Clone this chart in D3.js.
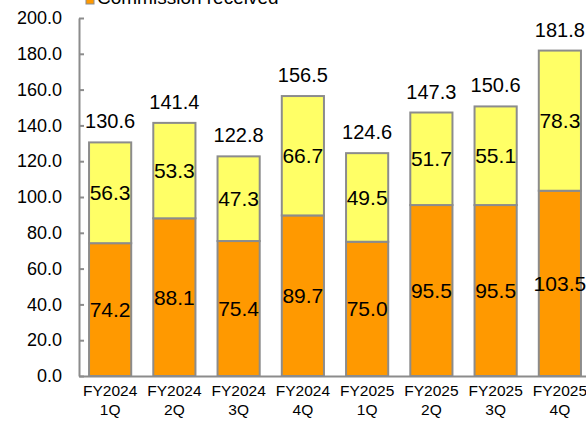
<!DOCTYPE html>
<html>
<head>
<meta charset="utf-8">
<script src="https://cdn.jsdelivr.net/npm/d3@7"></script>
<style>
  html, body { margin: 0; padding: 0; background: #fff; }
  svg { display: block; font-family: "Liberation Sans", Arial, sans-serif; }
</style>
</head>
<body>
<svg id="chart" width="586" height="421"></svg>
<script>
// Quarterly breakdown: lower segment and upper segment, with the stated totals
const quarters = ["FY2024\n1Q", "FY2024\n2Q", "FY2024\n3Q", "FY2024\n4Q",
                  "FY2025\n1Q", "FY2025\n2Q", "FY2025\n3Q", "FY2025\n4Q"];
const lowerValues = [74.2, 88.1, 75.4, 89.7, 75.0, 95.5, 95.5, 103.5];
const upperValues = [56.3, 53.3, 47.3, 66.7, 49.5, 51.7, 55.1, 78.3];
const totalLabels = ["130.6", "141.4", "122.8", "156.5", "124.6", "147.3", "150.6", "181.8"];
const yTicks = [0, 20, 40, 60, 80, 100, 120, 140, 160, 180, 200];
const legendLabel = "Commission received";

const svg = d3.select("#chart");
const plotLeft = 79, plotBottom = 376, plotTop = 18;

const x = d3.scaleBand()
  .domain(quarters)
  .range([plotLeft, plotLeft + 64 * quarters.length])
  .paddingInner(22 / 64)
  .paddingOuter(10 / 64)
  .align(0.5);

const y = d3.scaleLinear().domain([0, 200]).range([plotBottom, plotTop]);

const orange = "#FF9900", yellow = "#FFFF66", edge = "#8C8C8C";

const rows = quarters.map((q, i) => ({ q, lo: lowerValues[i], hi: upperValues[i], total: totalLabels[i] }));

// Lower segments
svg.append("g").selectAll("rect").data(rows).join("rect")
  .attr("x", d => x(d.q))
  .attr("width", x.bandwidth())
  .attr("y", d => y(d.lo))
  .attr("height", d => y(0) - y(d.lo))
  .attr("fill", orange)
  .attr("stroke", edge)
  .attr("stroke-width", 2);

// Upper segments
svg.append("g").selectAll("rect").data(rows).join("rect")
  .attr("x", d => x(d.q))
  .attr("width", x.bandwidth())
  .attr("y", d => y(d.lo + d.hi))
  .attr("height", d => y(d.lo) - y(d.lo + d.hi))
  .attr("fill", yellow)
  .attr("stroke", edge)
  .attr("stroke-width", 2);

// Y axis
const yAxis = d3.axisLeft(y).tickValues(yTicks).tickFormat(d3.format(".1f"))
  .tickSizeInner(-5).tickSizeOuter(0).tickPadding(17);
const gy = svg.append("g").attr("transform", `translate(${plotLeft},0)`).call(yAxis);
gy.select(".domain").attr("stroke", edge).attr("stroke-width", 2);
gy.selectAll(".tick line").attr("stroke", edge).attr("stroke-width", 2);
gy.selectAll(".tick text").attr("font-size", 18).attr("fill", "#000")
  .attr("font-family", "Liberation Sans, Arial, sans-serif");

// X axis baseline and category labels
const xAxis = d3.axisBottom(x).tickSize(0).tickFormat("");
const gx = svg.append("g").attr("transform", `translate(0,${plotBottom})`).call(xAxis);
gx.select(".domain").attr("stroke", edge).attr("stroke-width", 2);
gx.selectAll(".tick").each(function(d) {
  const t = d3.select(this).append("text")
    .attr("text-anchor", "middle")
    .attr("font-size", 15.5)
    .attr("fill", "#000")
    .attr("font-family", "Liberation Sans, Arial, sans-serif");
  d.split("\n").forEach((line, i) => {
    t.append("tspan").attr("x", 0).attr("y", 20 + i * 19).text(line);
  });
});

// Segment value labels
const labels = svg.append("g").attr("text-anchor", "middle").attr("fill", "#000");
labels.selectAll("text.lo").data(rows).join("text").attr("class", "lo")
  .attr("font-size", 21)
  .attr("x", d => x(d.q) + x.bandwidth() / 2)
  .attr("y", d => (y(0) + y(d.lo)) / 2)
  .attr("dy", "0.35em")
  .text(d => d3.format(".1f")(d.lo));
labels.selectAll("text.hi").data(rows).join("text").attr("class", "hi")
  .attr("font-size", 21)
  .attr("x", d => x(d.q) + x.bandwidth() / 2)
  .attr("y", d => (y(d.lo) + y(d.lo + d.hi)) / 2)
  .attr("dy", "0.35em")
  .text(d => d3.format(".1f")(d.hi));
labels.selectAll("text.tot").data(rows).join("text").attr("class", "tot")
  .attr("font-size", 20)
  .attr("x", d => x(d.q) + x.bandwidth() / 2)
  .attr("y", d => y(d.lo + d.hi) - 14)
  .text(d => d.total);

// Legend (top edge)
const lg = svg.append("g");
lg.append("rect").attr("x", 86).attr("y", -4).attr("width", 8).attr("height", 8)
  .attr("fill", orange).attr("stroke", edge).attr("stroke-width", 1);
lg.append("text").attr("x", 97).attr("y", 4).attr("font-size", 19).attr("fill", "#000")
  .text(legendLabel);
</script>
</body>
</html>
